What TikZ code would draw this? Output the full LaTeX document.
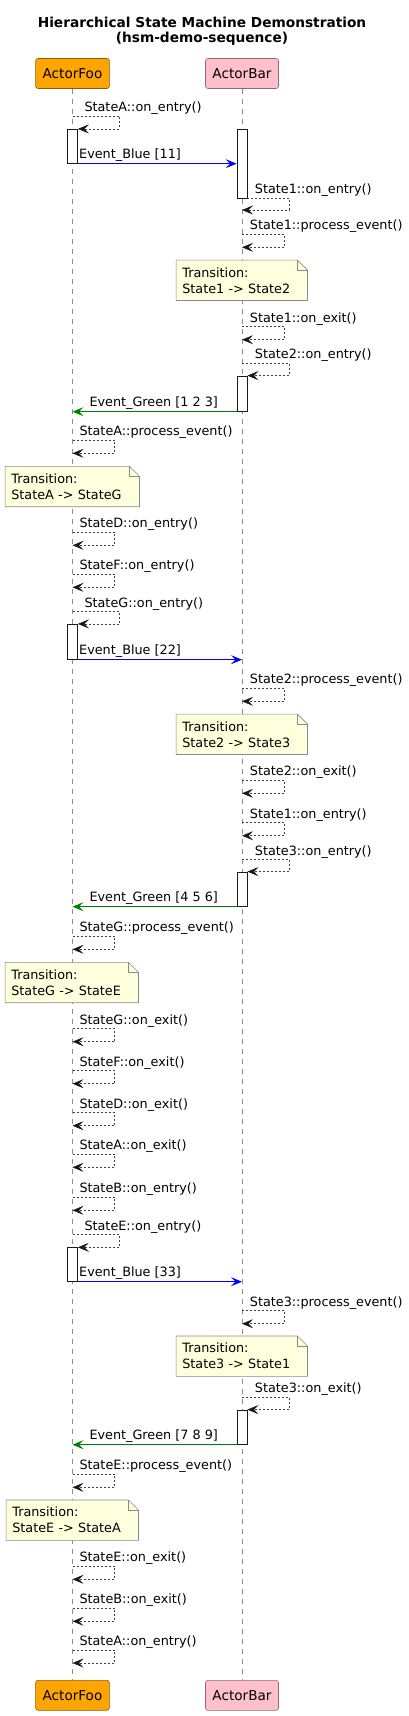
\documentclass[tikz,border=0pt]{standalone}
\usepackage{fontspec}
\setmainfont{DejaVu Sans}
\usepackage{tikz}
\usetikzlibrary{arrows.meta,backgrounds}
\definecolor{foofill}{HTML}{FFA500}
\definecolor{barfill}{HTML}{FFC0CB}
\definecolor{notefill}{HTML}{FEFFDD}
\definecolor{notedraw}{HTML}{8A8A8A}
\definecolor{evblue}{HTML}{0000FF}
\definecolor{evgreen}{HTML}{008000}

\begin{document}
\begin{tikzpicture}[x=1pt,y=-1pt,
  title/.style={align=center,font=\bfseries\fontsize{13.7}{15}\selectfont},
  actor/.style={rectangle,rounded corners=2.5pt,draw=#1!55!black,fill=#1,line width=0.6pt,
    minimum height=30pt,inner xsep=7pt,font=\fontsize{13.6}{16}\selectfont},
  lifeline/.style={draw=black!45,line width=0.6pt,dash pattern=on 5pt off 5pt},
  act/.style={rectangle,draw=black!90,fill=white,line width=0.8pt,minimum width=10pt,inner sep=0pt},
  note/.style={rectangle,minimum height=40pt,text width=#1,align=left,inner xsep=6pt,
    font=\fontsize{12.8}{16}\selectfont},
  note/.default=119pt,
  notebg/.style={draw=notedraw,fill=notefill,line width=0.6pt},
  fold/.style={draw=notedraw,line width=0.6pt},
  msg/.style={anchor=base west,inner sep=0pt,font=\fontsize{12.8}{15}\selectfont},
  self/.style={draw=black!75,line width=0.6pt,dash pattern=on 2pt off 2pt,
    -{Stealth[length=11pt,width=9pt,inset=4.5pt,black!90]}},
  event/.style={draw=#1,line width=0.9pt,-{Stealth[length=11pt,width=9pt,inset=4.5pt,fill=#1]}}
]
\useasboundingbox (0,0) rectangle (409,1716);

% titre et acteurs
\node[title] (title) at (202,31.5) {Hierarchical State Machine Demonstration\\(hsm-demo-sequence)};
\node[actor=foofill] (fooTop) at (72.5,73.5)   {ActorFoo};
\node[actor=barfill] (barTop) at (242,73.5)    {ActorBar};
\node[actor=foofill] (fooBot) at (72.5,1695.3) {ActorFoo};
\node[actor=barfill] (barBot) at (242,1695.3)  {ActorBar};

% notes
\node[note]        (n1) at (241.8,280.3)  {Transition:\\State1 -> State2};
\node[note=122pt]  (n2) at (72.3,486.5)   {Transition:\\StateA -> StateG};
\node[note]        (n3) at (241.8,734.3)  {Transition:\\State2 -> State3};
\node[note=121pt]  (n4) at (71.8,982.5)   {Transition:\\StateG -> StateE};
\node[note]        (n5) at (241.8,1356.2) {Transition:\\State3 -> State1};
\node[note=120pt]  (n6) at (72.3,1520.2)  {Transition:\\StateE -> StateA};

\begin{scope}[on background layer]
\draw[lifeline] (fooTop)--(fooBot);
\draw[lifeline] (barTop)--(barBot);
\draw[notebg] (n1.south west)--(n1.north west)--([xshift=-10pt]n1.north east)--([yshift=-10pt]n1.north east)--(n1.south east)--cycle;
\draw[notebg] (n2.south west)--(n2.north west)--([xshift=-10pt]n2.north east)--([yshift=-10pt]n2.north east)--(n2.south east)--cycle;
\draw[notebg] (n3.south west)--(n3.north west)--([xshift=-10pt]n3.north east)--([yshift=-10pt]n3.north east)--(n3.south east)--cycle;
\draw[notebg] (n4.south west)--(n4.north west)--([xshift=-10pt]n4.north east)--([yshift=-10pt]n4.north east)--(n4.south east)--cycle;
\draw[notebg] (n5.south west)--(n5.north west)--([xshift=-10pt]n5.north east)--([yshift=-10pt]n5.north east)--(n5.south east)--cycle;
\draw[notebg] (n6.south west)--(n6.north west)--([xshift=-10pt]n6.north east)--([yshift=-10pt]n6.north east)--(n6.south east)--cycle;
\end{scope}
\draw[fold] ([xshift=-10pt]n1.north east) |- ([yshift=-10pt]n1.north east);
\draw[fold] ([xshift=-10pt]n2.north east) |- ([yshift=-10pt]n2.north east);
\draw[fold] ([xshift=-10pt]n3.north east) |- ([yshift=-10pt]n3.north east);
\draw[fold] ([xshift=-10pt]n4.north east) |- ([yshift=-10pt]n4.north east);
\draw[fold] ([xshift=-10pt]n5.north east) |- ([yshift=-10pt]n5.north east);
\draw[fold] ([xshift=-10pt]n6.north east) |- ([yshift=-10pt]n6.north east);

% activations
\node[act,minimum height=34pt]   (fa1) at (72.5,146.3)  {};
\node[act,minimum height=35pt]   (fa2) at (72.5,641.8)  {};
\node[act,minimum height=33.6pt] (fa3) at (72.5,1264.5) {};
\node[act,minimum height=68.7pt] (ba1) at (242,163.65)  {};
\node[act,minimum height=35.3pt] (ba2) at (242,393.65)  {};
\node[act,minimum height=34.3pt] (ba3) at (242,889.15)  {};
\node[act,minimum height=34.3pt] (ba4) at (242,1427.15) {};

% messages
\coordinate (s1) at (72.5,116.3);
\node[msg] (t1) at (84.3,111.7) {StateA::on\_entry()};
\draw[self] (s1)--++(47,0)|-(fa1.north east);

\node[msg] (e1) at (79,158.7) {Event\_Blue [11]};
\draw[event=evblue] (fa1.south east)--(fa1.south east -| ba1.west);

\coordinate (s2) at (242,210);
\node[msg] (t2) at (254.7,193.4) {State1::on\_entry()};
\draw[self] (ba1.south east)--++(42,0)|-(s2);

\coordinate (s3) at (242,234.3);
\node[msg] (t3) at (249.7,229.7) {State1::process\_event()};
\draw[self] (s3)--++(42.5,0)|-++(-42.5,13);

\coordinate (s4) at (242,326.7);
\node[msg] (t4) at (249.7,322.1) {State1::on\_exit()};
\draw[self] (s4)--++(42.5,0)|-++(-42.5,13);

\coordinate (s5) at (242,363.3);
\node[msg] (t5) at (254.7,358.7) {State2::on\_entry()};
\draw[self] (s5)--++(47.3,0)|-(ba2.north east);

\node[msg] (e2) at (89.3,406.7) {Event\_Green [1 2 3]};
\draw[event=evgreen] (ba2.south west)--(ba2.south west -| fooTop);

\coordinate (s6) at (72.5,440.3);
\node[msg] (t6) at (79.3,435.7) {StateA::process\_event()};
\draw[self] (s6)--++(42,0)|-++(-42,13);

\coordinate (s7) at (72.5,532.3);
\node[msg] (t7) at (79.3,527.7) {StateD::on\_entry()};
\draw[self] (s7)--++(42,0)|-++(-42,13);

\coordinate (s8) at (72.5,574.3);
\node[msg] (t8) at (79.3,569.7) {StateF::on\_entry()};
\draw[self] (s8)--++(42,0)|-++(-42,13);

\coordinate (s9) at (72.5,611.7);
\node[msg] (t9) at (84.3,607.1) {StateG::on\_entry()};
\draw[self] (s9)--++(47,0)|-(fa2.north east);

\node[msg] (e3) at (79,654.7) {Event\_Blue [22]};
\draw[event=evblue] (fa2.south east)--(fa2.south east -| barTop);

\coordinate (s10) at (242,688.3);
\node[msg] (t10) at (249.7,683.7) {State2::process\_event()};
\draw[self] (s10)--++(42.5,0)|-++(-42.5,13);

\coordinate (s11) at (242,780.3);
\node[msg] (t11) at (249.7,775.7) {State2::on\_exit()};
\draw[self] (s11)--++(42.5,0)|-++(-42.5,13);

\coordinate (s12) at (242,822.7);
\node[msg] (t12) at (249.7,818.1) {State1::on\_entry()};
\draw[self] (s12)--++(42.5,0)|-++(-42.5,13);

\coordinate (s13) at (242,859.7);
\node[msg] (t13) at (254.7,855.1) {State3::on\_entry()};
\draw[self] (s13)--++(47.3,0)|-(ba3.north east);

\node[msg] (e4) at (89.3,901.7) {Event\_Green [4 5 6]};
\draw[event=evgreen] (ba3.south west)--(ba3.south west -| fooTop);

\coordinate (s14) at (72.5,936.3);
\node[msg] (t14) at (79.3,931.7) {StateG::process\_event()};
\draw[self] (s14)--++(42,0)|-++(-42,13);

\coordinate (s15) at (72.5,1028.7);
\node[msg] (t15) at (79.3,1024.1) {StateG::on\_exit()};
\draw[self] (s15)--++(42,0)|-++(-42,13);

\coordinate (s16) at (72.5,1070.7);
\node[msg] (t16) at (79.3,1066.1) {StateF::on\_exit()};
\draw[self] (s16)--++(42,0)|-++(-42,13);

\coordinate (s17) at (72.5,1112.7);
\node[msg] (t17) at (79.3,1108.1) {StateD::on\_exit()};
\draw[self] (s17)--++(42,0)|-++(-42,13);

\coordinate (s18) at (72.5,1154.3);
\node[msg] (t18) at (79.3,1149.7) {StateA::on\_exit()};
\draw[self] (s18)--++(42,0)|-++(-42,13);

\coordinate (s19) at (72.5,1197.3);
\node[msg] (t19) at (79.3,1192.7) {StateB::on\_entry()};
\draw[self] (s19)--++(42,0)|-++(-42,13);

\coordinate (s20) at (72.5,1234.7);
\node[msg] (t20) at (84.3,1230.1) {StateE::on\_entry()};
\draw[self] (s20)--++(47,0)|-(fa3.north east);

\node[msg] (e5) at (79,1276.7) {Event\_Blue [33]};
\draw[event=evblue] (fa3.south east)--(fa3.south east -| barTop);

\coordinate (s21) at (242,1310.7);
\node[msg] (t21) at (249.7,1306.1) {State3::process\_event()};
\draw[self] (s21)--++(42.5,0)|-++(-42.5,13);

\coordinate (s22) at (242,1397.3);
\node[msg] (t22) at (254.7,1392.7) {State3::on\_exit()};
\draw[self] (s22)--++(47.3,0)|-(ba4.north east);

\node[msg] (e6) at (89.3,1439.7) {Event\_Green [7 8 9]};
\draw[event=evgreen] (ba4.south west)--(ba4.south west -| fooTop);

\coordinate (s23) at (72.5,1474.3);
\node[msg] (t23) at (79.3,1469.7) {StateE::process\_event()};
\draw[self] (s23)--++(42,0)|-++(-42,13);

\coordinate (s24) at (72.5,1566.3);
\node[msg] (t24) at (79.3,1561.7) {StateE::on\_exit()};
\draw[self] (s24)--++(42,0)|-++(-42,13);

\coordinate (s25) at (72.5,1608.3);
\node[msg] (t25) at (79.3,1603.7) {StateB::on\_exit()};
\draw[self] (s25)--++(42,0)|-++(-42,13);

\coordinate (s26) at (72.5,1650);
\node[msg] (t26) at (79.3,1645.4) {StateA::on\_entry()};
\draw[self] (s26)--++(42,0)|-++(-42,13);
\end{tikzpicture}
\end{document}
